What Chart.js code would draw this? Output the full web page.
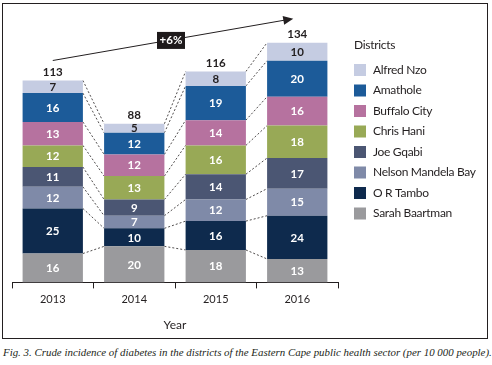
<!DOCTYPE html>
<html lang="en">
<head>
<meta charset="UTF-8">
<title>Crude incidence of diabetes - Eastern Cape</title>
<script src="https://cdn.jsdelivr.net/npm/chart.js"></script>
<style>
  body { margin: 0; background: #fff; }
  #wrap { position: relative; width: 492px; height: 365px; }
  #frame { position: absolute; left: 2px; top: 3px; width: 484px; height: 334px; border: 1px solid #231f20; }
  #chart { position: absolute; left: 0; top: 0; }
  #caption { position: absolute; left: 3px; top: 346px; font: italic 10.9px "Liberation Serif", serif; white-space: nowrap; color: #231f20; }
</style>
</head>
<body>
<div id="wrap">
  <div id="frame"></div>
  <canvas id="chart" width="492" height="340"></canvas>
  <div id="caption">Fig. 3. Crude incidence of diabetes in the districts of the Eastern Cape public health sector (per 10 000 people).</div>
</div>
<script>
// data (legend order, top of stack first)
var years = ["2013", "2014", "2015", "2016"];
var districts = ["Alfred Nzo", "Amathole", "Buffalo City", "Chris Hani", "Joe Gqabi", "Nelson Mandela Bay", "O R Tambo", "Sarah Baartman"];
var alfredNzo = [7, 5, 8, 10];
var amathole = [16, 12, 19, 20];
var buffaloCity = [13, 12, 14, 16];
var chrisHani = [12, 13, 16, 18];
var joeGqabi = [11, 9, 14, 17];
var nelsonMandelaBay = [12, 7, 12, 15];
var orTambo = [25, 10, 16, 24];
var sarahBaartman = [16, 20, 18, 13];
var totals = [113, 88, 116, 134];
var growthLabel = "+6%";

var colors = ["#c5cce2", "#1c5b99", "#b6729f", "#98a956", "#4b5673", "#7f8aa8", "#0e2a4d", "#9a9a9d"];
var values = [alfredNzo, amathole, buffaloCity, chrisHani, joeGqabi, nelsonMandelaBay, orTambo, sarahBaartman];
var ink = "#231f20";
var fontFam = "Lato, 'Open Sans', sans-serif";

// Chart.js stacks the first dataset at the bottom, so build them reversed
var datasets = [];
for (var i = districts.length - 1; i >= 0; i--) {
    datasets.push({
        label: districts[i],
        data: values[i],
        backgroundColor: colors[i],
        borderWidth: 0,
        textColor: i === 0 ? ink : "#ffffff"
    });
}

var extras = {
    id: "extras",
    beforeDatasetsDraw: function (chart) {
        var ctx = chart.ctx;
        ctx.save();
        ctx.strokeStyle = ink;
        ctx.lineWidth = 0.8;
        ctx.setLineDash([2, 2]);
        chart.data.datasets.forEach(function (ds, d) {
            var meta = chart.getDatasetMeta(d);
            for (var k = 0; k < meta.data.length - 1; k++) {
                var a = meta.data[k].getProps(["x", "y", "width"], true);
                var b = meta.data[k + 1].getProps(["x", "y", "width"], true);
                ctx.beginPath();
                ctx.moveTo(a.x + a.width / 2, a.y);
                ctx.lineTo(b.x - b.width / 2, b.y);
                ctx.stroke();
            }
        });
        ctx.restore();
    },
    afterDatasetsDraw: function (chart) {
        var ctx = chart.ctx;
        ctx.save();
        ctx.textAlign = "center";
        ctx.textBaseline = "middle";

        // segment values
        ctx.font = "bold 11.5px " + fontFam;
        chart.data.datasets.forEach(function (ds, d) {
            var meta = chart.getDatasetMeta(d);
            meta.data.forEach(function (el, k) {
                var p = el.getProps(["x", "y", "base"], true);
                ctx.fillStyle = ds.textColor;
                ctx.fillText(String(ds.data[k]), p.x, (p.y + p.base) / 2 + 0.5);
            });
        });

        // totals
        var top = chart.getDatasetMeta(chart.data.datasets.length - 1);
        ctx.fillStyle = ink;
        top.data.forEach(function (el, k) {
            var p = el.getProps(["x", "y"], true);
            ctx.fillText(String(totals[k]), p.x, p.y - 8);
        });

        // growth arrow
        var first = top.data[0].getProps(["x", "y"], true);
        var last = top.data[top.data.length - 1].getProps(["x", "y"], true);
        var x0 = first.x, y0 = first.y - 20;
        var x1 = last.x - 4, y1 = last.y - 24;
        var ang = Math.atan2(y1 - y0, x1 - x0);
        ctx.strokeStyle = ink;
        ctx.lineWidth = 1;
        ctx.beginPath();
        ctx.moveTo(x0, y0);
        ctx.lineTo(x1 - 8 * Math.cos(ang), y1 - 8 * Math.sin(ang));
        ctx.stroke();
        ctx.fillStyle = ink;
        ctx.beginPath();
        ctx.moveTo(x1, y1);
        ctx.lineTo(x1 - 10 * Math.cos(ang) + 4.5 * Math.sin(ang), y1 - 10 * Math.sin(ang) - 4.5 * Math.cos(ang));
        ctx.lineTo(x1 - 10 * Math.cos(ang) - 4.5 * Math.sin(ang), y1 - 10 * Math.sin(ang) + 4.5 * Math.cos(ang));
        ctx.closePath();
        ctx.fill();

        var bx = 171;
        var by = y0 + (y1 - y0) * (bx - x0) / (x1 - x0);
        ctx.fillStyle = "#1e1a1b";
        ctx.fillRect(bx - 14, by - 8, 28, 17);
        ctx.fillStyle = "#ffffff";
        ctx.fillText(growthLabel, bx, by + 0.5);

        // legend
        ctx.textAlign = "left";
        ctx.letterSpacing = "-0.3px";
        ctx.fillStyle = ink;
        ctx.font = "12px " + fontFam;
        ctx.fillText("Districts", 354, 45);
        districts.forEach(function (name, i) {
            var cy = 70 + i * 20.5;
            ctx.fillStyle = colors[i];
            ctx.fillRect(354, cy - 6, 12, 12);
            ctx.fillStyle = ink;
            ctx.fillText(name, 373, cy);
        });
        ctx.restore();
    }
};

new Chart(document.getElementById("chart"), {
    type: "bar",
    data: { labels: years, datasets: datasets },
    options: {
        responsive: false,
        animation: false,
        layout: { padding: { left: 12, right: 154, top: 12, bottom: 8 } },
        plugins: { legend: { display: false }, tooltip: { enabled: false } },
        datasets: { bar: { categoryPercentage: 1, barPercentage: 0.74 } },
        scales: {
            x: {
                stacked: true,
                grid: { display: true, drawOnChartArea: false, drawTicks: true, tickLength: 6, color: ink, offset: true },
                border: { display: true, color: ink, width: 1 },
                ticks: { color: ink, font: { family: fontFam, size: 11 }, padding: 4 },
                title: { display: true, text: "Year", color: ink, font: { family: fontFam, size: 12 }, padding: { top: 8, bottom: 0 } }
            },
            y: { stacked: true, display: false, min: 0, max: 150 }
        }
    },
    plugins: [extras]
});
</script>
</body>
</html>
